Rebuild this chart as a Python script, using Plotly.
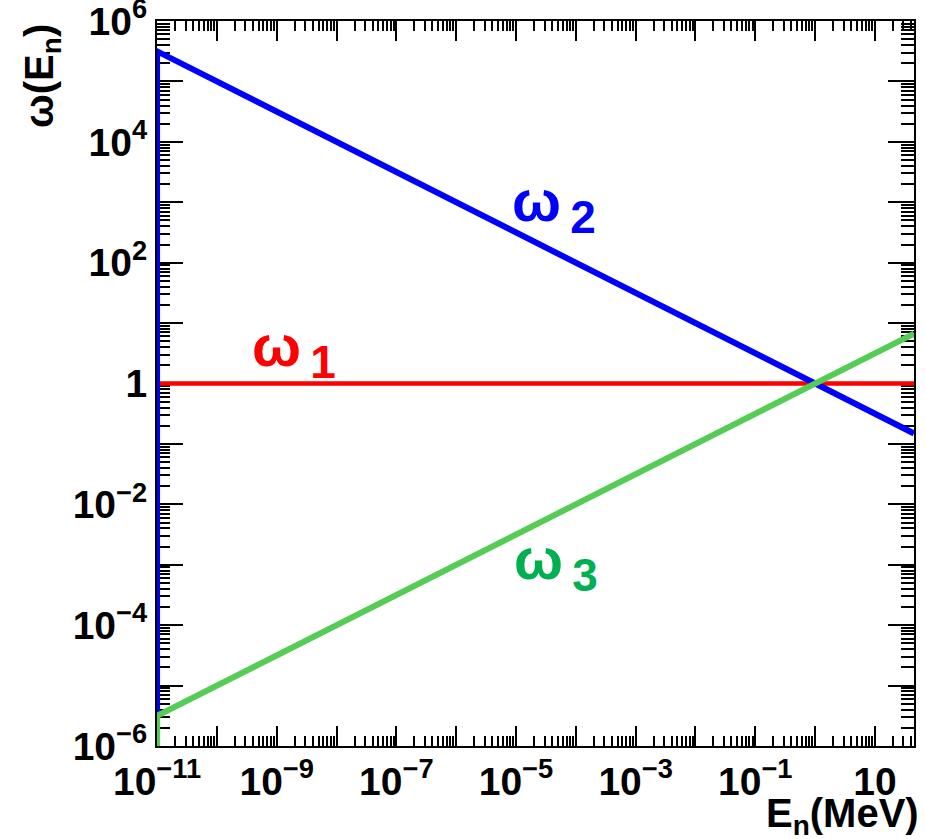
import math
import plotly.graph_objects as go

# ---- data ----
E_n = [1e-11, 1e-11, 45.0]                 # neutron energy (MeV); first point = drop line at left edge
omega1 = [1e-7, 1.0, 1.0]
omega2 = [1e-7, 3.16e5, 0.149]
omega3 = [1e-7, 3.16e-6, 6.7]

x_tick_exps = list(range(-11, 2))
x_tick_text = ["10<sup>−11</sup>", "", "10<sup>−9</sup>", "", "10<sup>−7</sup>", "",
               "10<sup>−5</sup>", "", "10<sup>−3</sup>", "", "10<sup>−1</sup>", "", "10"]
y_tick_exps = list(range(-6, 7))
y_tick_text = ["10<sup>−6</sup>", "", "10<sup>−4</sup>", "", "10<sup>−2</sup>", "", "1", "",
               "10<sup>2</sup>", "", "10<sup>4</sup>", "", "10<sup>6</sup>"]

x_range = [1e-11, 45.0]
y_range = [1e-6, 1e6]

FONT = "Liberation Sans, Arial, sans-serif"

fig = go.Figure()
fig.add_trace(go.Scatter(x=E_n, y=omega1, mode="lines", line=dict(color="#ff0000", width=4.5), name="ω1"))
fig.add_trace(go.Scatter(x=E_n, y=omega2, mode="lines", line=dict(color="#0000ff", width=6), name="ω2"))
fig.add_trace(go.Scatter(x=E_n, y=omega3, mode="lines", line=dict(color="#55cc55", width=6), name="ω3"))

axis_common = dict(
    type="log", showgrid=False, zeroline=False, showline=True, linecolor="black", linewidth=2,
    mirror="allticks", ticks="inside", tickcolor="black", tickwidth=2,
    tickfont=dict(family=FONT, size=39, color="black", weight="bold"),
    tickmode="array", layer="below traces", ticklabeloverflow="allow", automargin=False,
)

eps = 0.0008
fig.update_xaxes(
    **axis_common,
    range=[math.log10(x_range[0]) - eps, math.log10(x_range[1])],
    tickvals=[10.0 ** e for e in x_tick_exps], ticktext=x_tick_text, ticklen=20,
    minor=dict(ticks="inside", ticklen=10, tickwidth=1.5, tickcolor="black", dtick="D1", showgrid=False),
)
fig.update_yaxes(
    **axis_common,
    range=[math.log10(y_range[0]) - eps, math.log10(y_range[1]) + eps],
    tickvals=[10.0 ** e for e in y_tick_exps], ticktext=y_tick_text, ticklen=26,
    minor=dict(ticks="inside", ticklen=13, tickwidth=1.5, tickcolor="black", dtick="D1", showgrid=False),
)

def lab(text, color, x, y):
    fig.add_annotation(
        text=text, x=x, y=y, xref="paper", yref="paper", xanchor="left", yanchor="middle",
        showarrow=False, font=dict(family=FONT, size=58, color=color, weight="bold"),
    )

lab("ω<sub><span style='font-size:46px'>\u20092</span></sub>", "#0000ff", (510 - 157) / 757, 1 - (205 - 21) / 725)
lab("ω<sub><span style='font-size:46px'>\u20091</span></sub>", "#ff0000", (250 - 157) / 757, 1 - (350 - 21) / 725)
lab("ω<sub><span style='font-size:46px'>\u20093</span></sub>", "#00b050", (512 - 157) / 757, 1 - (563 - 21) / 725)

# axis titles (ROOT style, aligned to axis ends)
fig.add_annotation(
    text="ω(E<sub>n</sub>)", x=-(157 - 42) / 757, y=1 - (22 - 21) / 725, xref="paper", yref="paper",
    xanchor="center", yanchor="top", textangle=-90, showarrow=False,
    font=dict(family=FONT, size=40, color="black", weight="bold"),
)
fig.add_annotation(
    text="E<sub>n</sub>(MeV)", x=(921 - 157) / 757, y=-(789 - 746) / 725, xref="paper", yref="paper",
    xanchor="right", yanchor="top", showarrow=False,
    font=dict(family=FONT, size=40, color="black", weight="bold"),
)

fig.update_layout(
    width=926, height=839, margin=dict(l=157, r=12, t=21, b=93, autoexpand=False),
    paper_bgcolor="white", plot_bgcolor="white", showlegend=False,
)

fig.write_html("out.html")
